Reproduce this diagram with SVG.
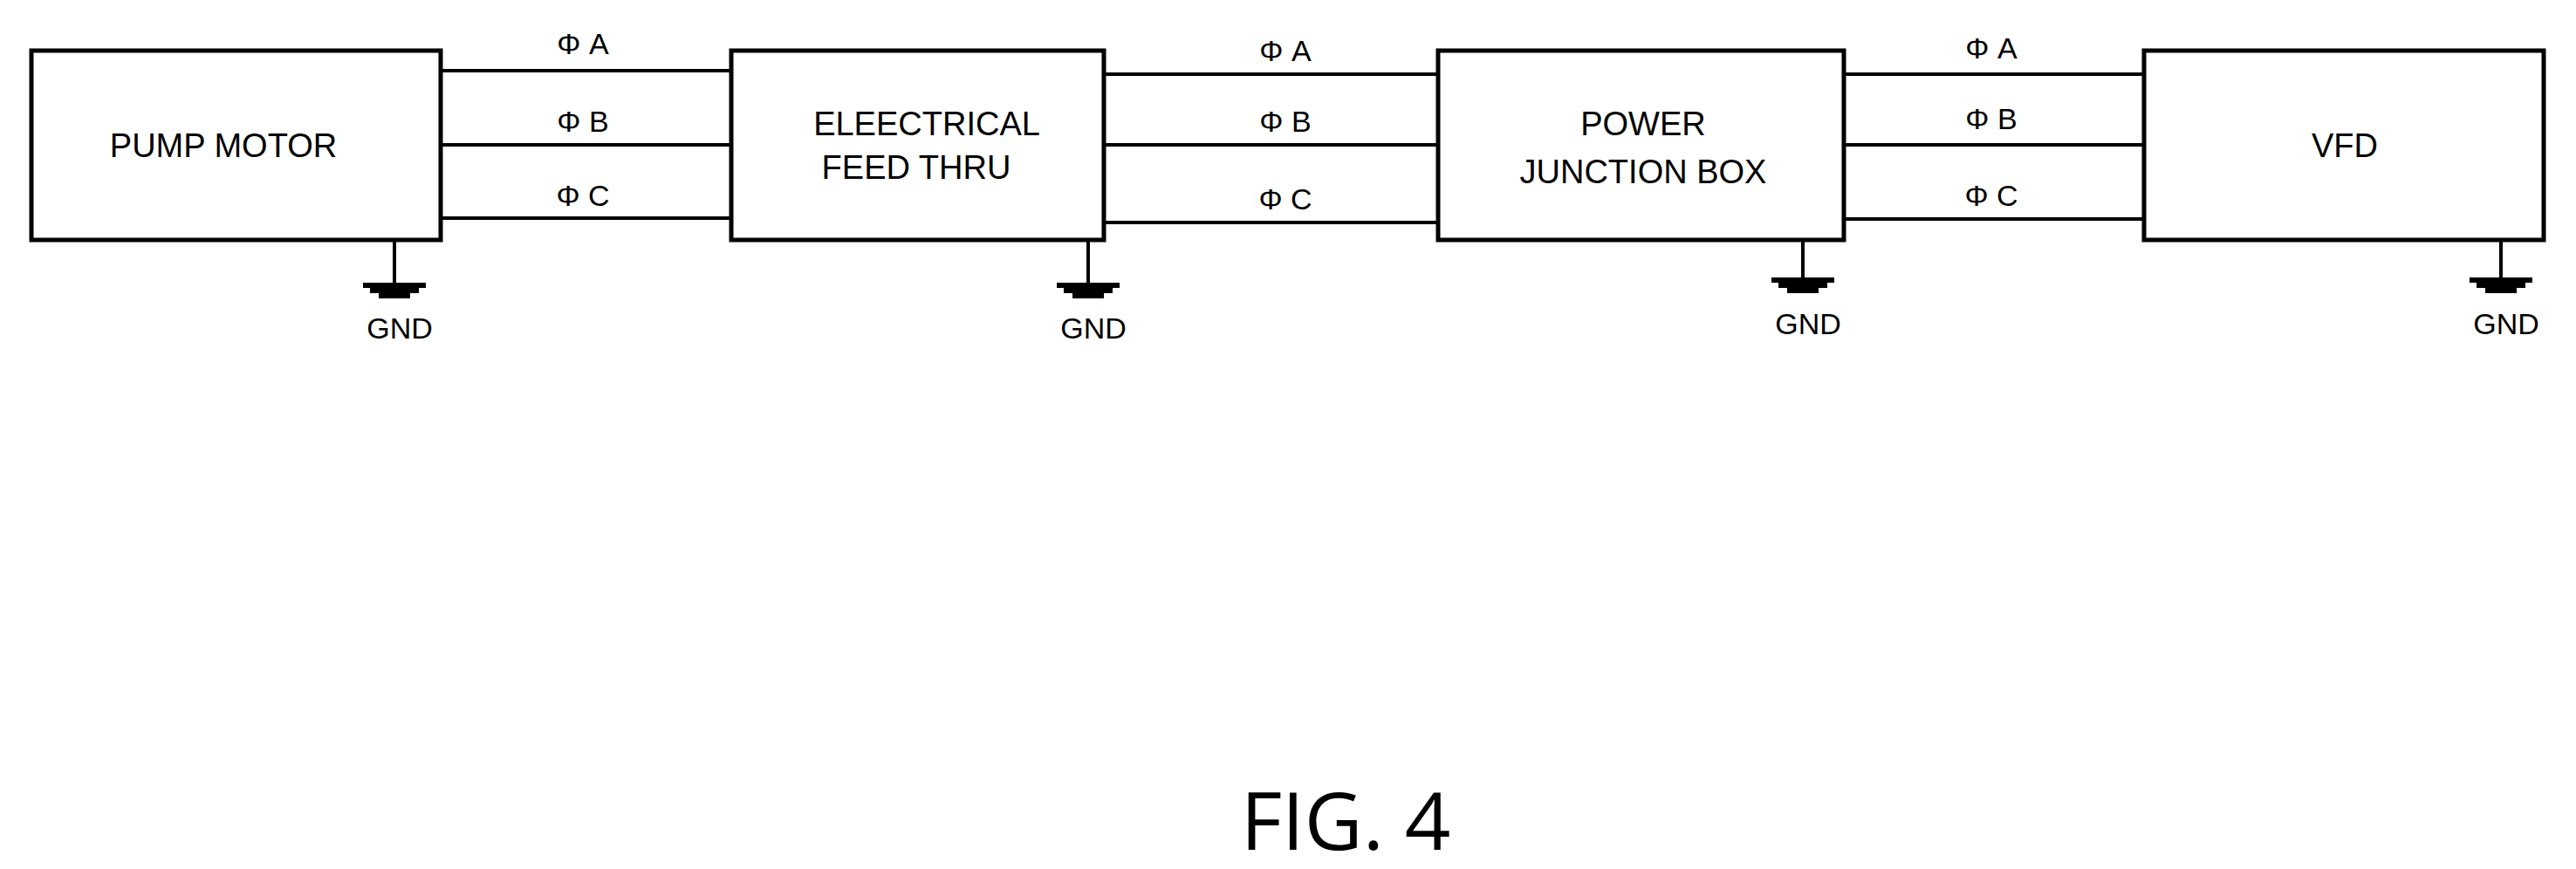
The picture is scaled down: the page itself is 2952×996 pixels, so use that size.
<svg xmlns="http://www.w3.org/2000/svg" width="2952" height="996" viewBox="0 0 2952 996">
<style>
.box{fill:#fff;stroke:#000;stroke-width:5}
.w{stroke:#000;stroke-width:4;fill:none}
.t{font-family:"Liberation Sans",Arial,sans-serif;font-size:38px;fill:#000;text-anchor:middle}
.p{font-family:"Liberation Sans",Arial,sans-serif;font-size:34px;fill:#000;text-anchor:middle}
.g{fill:#000}
</style>
<defs>
<g id="gnd">
<rect x="-36" y="0" width="72" height="6" class="g"/>
<rect x="-28" y="6" width="56" height="6" class="g"/>
<rect x="-18" y="12" width="36" height="6" class="g"/>
</g>
</defs>
<rect width="2952" height="996" fill="#fff"/>
<g id="connectors">
<line class="w" x1="505" y1="81" x2="838" y2="81"/>
<line class="w" x1="505" y1="166" x2="838" y2="166" stroke-width="5"/>
<line class="w" x1="505" y1="250" x2="838" y2="250"/>
<line class="w" x1="1265" y1="85" x2="1648" y2="85"/>
<line class="w" x1="1265" y1="166" x2="1648" y2="166" stroke-width="5"/>
<line class="w" x1="1265" y1="255" x2="1648" y2="255"/>
<line class="w" x1="2113" y1="85" x2="2457" y2="85"/>
<line class="w" x1="2113" y1="166" x2="2457" y2="166" stroke-width="5"/>
<line class="w" x1="2113" y1="251" x2="2457" y2="251"/>
<text class="p" x="668" y="62">Φ A</text>
<text class="p" x="668" y="151">Φ B</text>
<text class="p" x="668" y="236">Φ C</text>
<text class="p" x="1473" y="70">Φ A</text>
<text class="p" x="1473" y="151">Φ B</text>
<text class="p" x="1473" y="240">Φ C</text>
<text class="p" x="2282" y="67">Φ A</text>
<text class="p" x="2282" y="148">Φ B</text>
<text class="p" x="2282" y="236">Φ C</text>
<line class="w" x1="452" y1="277" x2="452" y2="324"/>
<use href="#gnd" x="452" y="324"/>
<line class="w" x1="1247" y1="277" x2="1247" y2="324"/>
<use href="#gnd" x="1247" y="324"/>
<line class="w" x1="2066" y1="270" x2="2066" y2="318"/>
<use href="#gnd" x="2066" y="318"/>
<line class="w" x1="2866" y1="270" x2="2866" y2="318"/>
<use href="#gnd" x="2866" y="318"/>
<text class="p" x="458" y="388">GND</text>
<text class="p" x="1253" y="388">GND</text>
<text class="p" x="2072" y="383">GND</text>
<text class="p" x="2872" y="383">GND</text>
</g>
<g id="pump"><rect class="box" x="36" y="58" width="469" height="217"/><text class="t" x="256" y="180">PUMP MOTOR</text></g>
<g id="feed"><rect class="box" x="838" y="58" width="427" height="217"/><text class="t" x="1062" y="155">ELEECTRICAL</text><text class="t" x="1050" y="205">FEED THRU</text></g>
<g id="pjb"><rect class="box" x="1648" y="58" width="465" height="217"/><text class="t" x="1883" y="155">POWER</text><text class="t" x="1883" y="210">JUNCTION BOX</text></g>
<g id="vfd"><rect class="box" x="2457" y="58" width="458" height="217"/><text class="t" x="2687" y="180">VFD</text></g>
<text x="1542" y="974" font-family="'Open Sans','Noto Sans',sans-serif" font-size="92" text-anchor="middle">FIG. 4</text>
</svg>
